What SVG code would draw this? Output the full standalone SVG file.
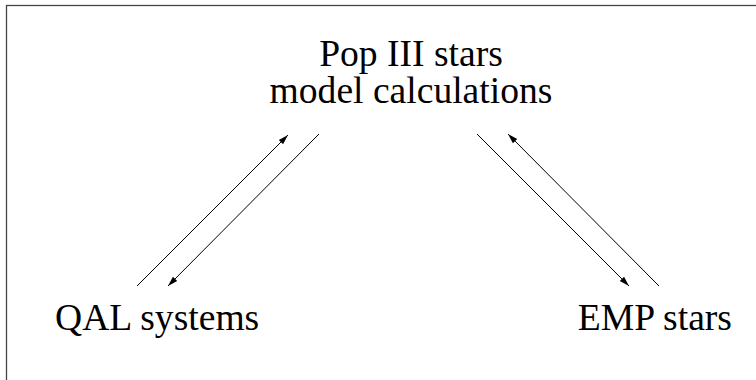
<svg xmlns="http://www.w3.org/2000/svg" width="756" height="380" viewBox="0 0 756 380">
  <defs>
    <style>
      .label { font-family: "Liberation Serif", "Times New Roman", serif; font-size: 37.6px; fill: #000; }
      .link { stroke: #000; stroke-width: 1; fill: none; }
      .frame { stroke: #444; stroke-width: 1.3; fill: none; }
    </style>
    <marker id="head" viewBox="0 0 10 10" refX="10" refY="5" markerWidth="10" markerHeight="10" markerUnits="userSpaceOnUse" orient="auto">
      <path d="M0,2 L10,5 L0,8 z" fill="#000"/>
    </marker>
  </defs>

  <!-- outer frame; right and bottom edges run past the page -->
  <rect class="frame" x="6.5" y="5.5" width="800" height="420"/>

  <g id="pop3">
    <text class="label" x="411" y="66" text-anchor="middle">Pop III stars</text>
    <text class="label" x="411" y="103" text-anchor="middle">model calculations</text>
  </g>
  <g id="qal">
    <text class="label" x="55" y="330">QAL systems</text>
  </g>
  <g id="emp">
    <text class="label" x="732" y="330" text-anchor="end">EMP stars</text>
  </g>

  <g id="connectors">
    <line class="link" x1="137" y1="286" x2="288" y2="135" marker-end="url(#head)"/>
    <line class="link" x1="319" y1="134" x2="168" y2="286" marker-end="url(#head)"/>
    <line class="link" x1="477" y1="134" x2="629" y2="286" marker-end="url(#head)"/>
    <line class="link" x1="659" y1="286" x2="508" y2="134" marker-end="url(#head)"/>
  </g>
</svg>
